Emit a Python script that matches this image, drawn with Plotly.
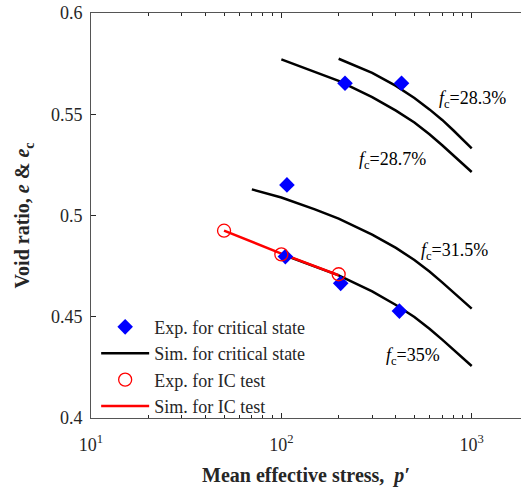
import plotly.graph_objects as go
import math

# Experimental critical state points (blue diamonds)
exp_cs_p = [216, 428, 107, 105, 205, 417]
exp_cs_e = [0.5653, 0.5653, 0.5151, 0.4797, 0.4665, 0.4528]

# Simulated critical state lines
sim_p_A = [100, 150, 200, 300, 400, 500, 600, 700, 800, 900, 1000]
sim_e_A = [0.5771, 0.5711, 0.5665, 0.5585, 0.5518, 0.5459, 0.5401, 0.5347, 0.5297, 0.5254, 0.5215]  # fc=28.7%
sim_p_B = [200, 300, 400, 500, 600, 700, 800, 900, 1000]
sim_e_B = [0.5774, 0.5704, 0.5640, 0.5580, 0.5524, 0.5472, 0.5421, 0.5374, 0.5331]  # fc=28.3%
sim_p_C = [70, 100, 150, 200, 300, 400, 500, 600, 700, 800, 900, 1000]
sim_e_C = [0.5129, 0.5089, 0.5030, 0.4985, 0.4906, 0.4840, 0.4780, 0.4723, 0.4670, 0.4620, 0.4578, 0.4540]  # fc=31.5%
sim_p_D = [100, 150, 200, 300, 400, 500, 600, 700, 800, 900, 1000]
sim_e_D = [0.4810, 0.4750, 0.4704, 0.4625, 0.4558, 0.4499, 0.4441, 0.4387, 0.4337, 0.4295, 0.4257]  # fc=35%

# IC test
exp_ic_p = [50, 100, 200]
exp_ic_e = [0.4925, 0.4808, 0.4710]
sim_ic_p = [50, 100, 200]
sim_ic_e = [0.4925, 0.4812, 0.4705]

labels = ["28.3%", "28.7%", "31.5%", "35%"]
label_p = [658, 250, 528, 346]
label_e = [0.5575, 0.5274, 0.4820, 0.4306]

FONT = "Liberation Serif"
fig = go.Figure()

first = True
for px_, ey in [(sim_p_A, sim_e_A), (sim_p_B, sim_e_B), (sim_p_C, sim_e_C), (sim_p_D, sim_e_D)]:
    fig.add_trace(go.Scatter(x=px_, y=ey, mode="lines", name="Sim. for critical state",
                             line=dict(color="black", width=2.5),
                             showlegend=first, legendgroup="sim", legendrank=2))
    first = False
fig.add_trace(go.Scatter(x=sim_ic_p, y=sim_ic_e, mode="lines", name="Sim. for IC test",
                         line=dict(color="red", width=2.5), legendrank=4))
fig.add_trace(go.Scatter(x=exp_cs_p, y=exp_cs_e, mode="markers", name="Exp. for critical state",
                         marker=dict(symbol="diamond", size=12, color="#0000ff", line=dict(width=0)),
                         legendrank=1))
fig.add_trace(go.Scatter(x=exp_ic_p, y=exp_ic_e, mode="markers", name="Exp. for IC test",
                         marker=dict(symbol="circle-open", size=13, color="red", line=dict(width=1.3, color="red")),
                         legendrank=3))

for lab, lp, le in zip(labels, label_p, label_e):
    fig.add_annotation(x=math.log10(lp), y=le, xref="x", yref="y",
                       text="<i>f</i><sub>c</sub>=" + lab, showarrow=False,
                       xanchor="left", yanchor="middle",
                       font=dict(family=FONT, size=18, color="black"))

# x-axis title as a paper annotation (fixed position)
fig.add_annotation(x=0.5, y=-0.141, xref="paper", yref="paper",
                   text="<b>Mean effective stress,  <i>p′</i></b>", showarrow=False,
                   xanchor="center", yanchor="middle",
                   font=dict(family=FONT, size=20, color="#262626"))

minor_x = [v * 10 ** d for d in (1, 2, 3) for v in range(2, 10)]

fig.update_layout(
    width=521, height=491,
    margin=dict(l=91, r=0, t=13, b=73, autoexpand=False),
    plot_bgcolor="white", paper_bgcolor="white",
    font=dict(family=FONT, size=18, color="#262626"),
    showlegend=True,
    legend=dict(x=0.012, y=0.27, xanchor="left", yanchor="top",
                bgcolor="rgba(0,0,0,0)", font=dict(family=FONT, size=18, color="#262626"),
                traceorder="normal", itemwidth=48, tracegroupgap=0),
    xaxis=dict(type="log", range=[1, 3.259], showgrid=False, zeroline=False, automargin=False,
               showline=True, linecolor="#555555", linewidth=1, mirror="ticks",
               ticks="inside", ticklen=5, tickcolor="#262626",
               tickvals=[10, 100, 1000],
               ticktext=["10<sup>1</sup>", "10<sup>2</sup>", "10<sup>3</sup>"],
               ticklabelstandoff=10,
               minor=dict(tickvals=minor_x, ticks="inside", ticklen=3, tickcolor="#262626")),
    yaxis=dict(range=[0.4, 0.6], showgrid=False, zeroline=False, automargin=False,
               showline=True, linecolor="#555555", linewidth=1, mirror=False,
               ticks="inside", ticklen=5, tickcolor="#262626",
               tickvals=[0.4, 0.45, 0.5, 0.55, 0.6],
               ticktext=["0.4", "0.45", "0.5", "0.55", "0.6"],
               ticklabelstandoff=4,
               title=dict(text="<b>Void ratio, <i>e</i> &amp; <i>e</i><sub>c</sub></b>",
                          font=dict(family=FONT, size=20, color="#262626"))),
)

fig.write_html("out.html",
               config={"displayModeBar": False},
               post_script="document.body.style.margin='0';document.body.style.padding='0';document.body.style.overflow='hidden';")
